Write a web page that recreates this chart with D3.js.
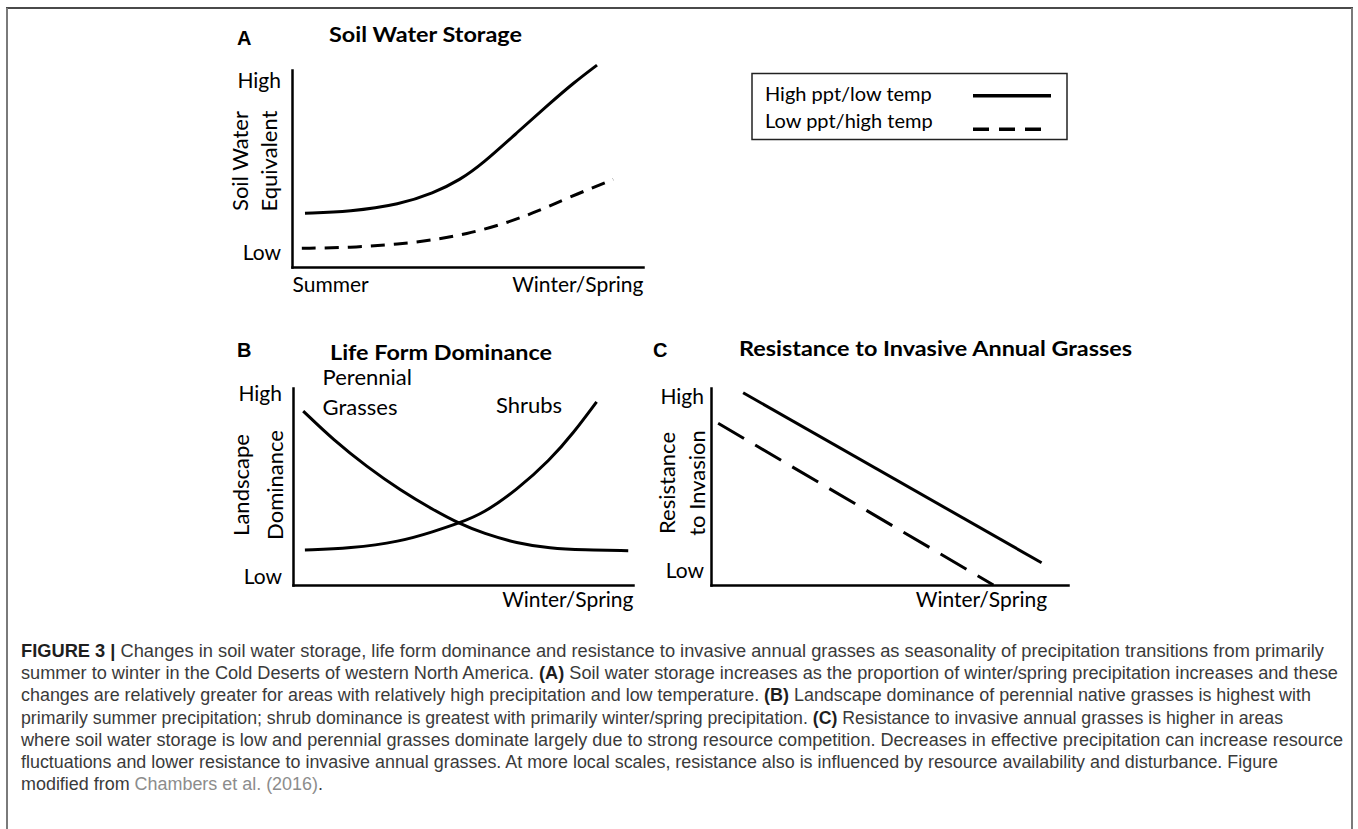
<!DOCTYPE html>
<html>
<head>
<meta charset="utf-8">
<script src="https://cdn.jsdelivr.net/npm/d3@7"></script>
<style>
  html, body { margin: 0; padding: 0; background: #fff; }
  svg { display: block; }
</style>
</head>
<body>
<svg id="fig" width="1358" height="829"></svg>
<script>
// ---- Conceptual curves, x = seasonality index (0 summer … 100 winter/spring), y = relative level (0 low … 100 high)

// (A) Soil water storage
const storageHighPpt = [[3.7,27.3],[16.5,28.1],[30.8,31.8],[40.2,37.4],[47.9,44.2],[54.4,52.6],[63.9,67.9],[73.5,83.1],[80.1,93.3],[86.9,102.5]];
const storageLowPpt  = [[2.8,9.5],[16.5,9.8],[30.8,11.7],[40.3,13.7],[49.8,16.8],[59.3,21.3],[68.7,27.3],[78.3,34.9],[91.5,44.5]];

// (B) Life form dominance
const dominanceGrasses = [[3.0,88.3],[11.9,73.6],[21.7,60.1],[31.5,48.2],[41.3,38.1],[49.1,31.0],[56.0,26.2],[65.8,21.2],[75.6,18.6],[85.4,17.8],[98.6,17.4]];
const dominanceShrubs  = [[3.5,17.8],[16.8,18.6],[31.5,22.0],[41.3,27.1],[49.1,31.6],[56.0,36.4],[65.8,48.2],[75.6,63.5],[82.4,77.0],[89.3,93.0]];

// (C) Resistance to invasive annual grasses
const resistanceHighPpt = [[9.0,97.6],[92.6,11.3]];
const resistanceLowPpt  = [[2.0,82.1],[79.1,0]];

// Axis wording
const levelLabels  = ["Low", "High"];
const seasonLabels = ["Summer", "Winter/Spring"];
const legendLabels = ["High ppt/low temp", "Low ppt/high temp"];

// Caption, one entry per printed line; segments are [text, style]
const captionLines = [
  [["FIGURE 3 | ", "b"], ["Changes in soil water storage, life form dominance and resistance to invasive annual grasses as seasonality of precipitation transitions from primarily", ""]],
  [["summer to winter in the Cold Deserts of western North America. ", ""], ["(A)", "b"], [" Soil water storage increases as the proportion of winter/spring precipitation increases and these", ""]],
  [["changes are relatively greater for areas with relatively high precipitation and low temperature. ", ""], ["(B)", "b"], [" Landscape dominance of perennial native grasses is highest with", ""]],
  [["primarily summer precipitation; shrub dominance is greatest with primarily winter/spring precipitation. ", ""], ["(C)", "b"], [" Resistance to invasive annual grasses is higher in areas", ""]],
  [["where soil water storage is low and perennial grasses dominate largely due to strong resource competition. Decreases in effective precipitation can increase resource", ""]],
  [["fluctuations and lower resistance to invasive annual grasses. At more local scales, resistance also is influenced by resource availability and disturbance. Figure", ""]],
  [["modified from ", ""], ["Chambers et al. (2016)", "link"], [".", ""]]
];
const captionWidths = [1303, 1317, 1290, 1262, 1322, 1257, 302];

// ---- Drawing
const svg = d3.select("#fig");
const FONT = "Lato, 'Open Sans', sans-serif";
const SOLID = null, DASH_A = "14,9", DASH_C = "30,13";

// frame around the figure
const frame = svg.append("g").attr("fill", "none");
frame.append("line").attr("x1", 6).attr("x2", 1353).attr("y1", 8).attr("y2", 8)
  .attr("stroke", "#4a4a4a").attr("stroke-width", 2);
frame.append("line").attr("x1", 7).attr("x2", 7).attr("y1", 8).attr("y2", 829)
  .attr("stroke", "#7a7a7a").attr("stroke-width", 2);
frame.append("line").attr("x1", 1352).attr("x2", 1352).attr("y1", 8).attr("y2", 829)
  .attr("stroke", "#7a7a7a").attr("stroke-width", 2);

const line = (x, y) => d3.line().x(d => x(d[0])).y(d => y(d[1])).curve(d3.curveBasis);

function panel(cfg) {
  const x = d3.scaleLinear().domain([0, 100]).range(cfg.xRange);
  const y = d3.scaleLinear().domain([0, 100]).range(cfg.yRange);
  const g = svg.append("g");

  // panel letter and title
  g.append("text").attr("x", cfg.letter[0]).attr("y", cfg.letter[1])
    .attr("font-family", "'Liberation Sans', Arial, sans-serif").attr("font-weight", 700)
    .attr("font-size", 20).text(cfg.letterText);
  g.append("text").attr("x", cfg.title[0]).attr("y", cfg.title[1])
    .attr("font-family", FONT).attr("font-weight", 700).attr("font-size", 21)
    .attr("textLength", cfg.titleWidth).attr("lengthAdjust", "spacingAndGlyphs")
    .text(cfg.titleText);

  // y axis: Low / High
  const ya = g.append("g").attr("transform", `translate(${cfg.xRange[0]},0)`)
    .call(d3.axisLeft(y).tickValues(cfg.yTicks).tickFormat((d, i) => levelLabels[i])
      .tickSize(0).tickSizeOuter(0).tickPadding(cfg.yPad));
  // x axis: season labels
  const xa = g.append("g").attr("transform", `translate(0,${cfg.yRange[0]})`)
    .call(d3.axisBottom(x).tickValues(cfg.xTicks).tickFormat((d, i) => cfg.xTickText[i])
      .tickSize(0).tickSizeOuter(0).tickPadding(cfg.xPad));
  [ya, xa].forEach(a => {
    a.select(".domain").attr("stroke", "#000").attr("stroke-width", 2.5).attr("stroke-linecap", "square");
    a.selectAll("text").attr("font-family", FONT).attr("font-size", 21).attr("fill", "#000");
  });
  ya.selectAll("text").attr("dy", "0.36em");
  xa.selectAll("text").attr("text-anchor", (d, i) => cfg.xAnchor[i]);

  // rotated y title
  cfg.yTitle.forEach((t, i) => {
    g.append("text")
      .attr("transform", `translate(${cfg.yTitleX[i]},${cfg.yTitleY}) rotate(-90)`)
      .attr("text-anchor", "middle").attr("font-family", FONT).attr("font-size", 22)
      .text(t);
  });

  // series
  cfg.series.forEach(s => {
    g.append("path").datum(s.data).attr("d", line(x, y)).attr("fill", "none")
      .attr("stroke", "#000").attr("stroke-width", 3)
      .attr("stroke-dasharray", s.dash).attr("stroke-linecap", "butt");
  });

  // in-plot annotations
  (cfg.notes || []).forEach(n => {
    g.append("text").attr("x", x(n[1])).attr("y", y(n[2]))
      .attr("font-family", FONT).attr("font-size", 22).text(n[0]);
  });
  return { x, y };
}

panel({
  letterText: "A", letter: [237, 45], titleText: "Soil Water Storage", title: [329, 42], titleWidth: 193,
  xRange: [292, 643], yRange: [267, 70],
  yTicks: [7.4, 94.9], yPad: 11,
  xTicks: [0, 100], xTickText: seasonLabels, xAnchor: ["start", "end"], xPad: 10,
  yTitle: ["Soil Water", "Equivalent"], yTitleX: [248, 277], yTitleY: 161,
  series: [{ data: storageHighPpt, dash: SOLID }, { data: storageLowPpt, dash: DASH_A }]
});

panel({
  letterText: "B", letter: [237, 357], titleText: "Life Form Dominance", title: [330, 360], titleWidth: 222,
  xRange: [293, 633], yRange: [585, 388],
  yTicks: [4.8, 97.7], yPad: 11,
  xTicks: [100], xTickText: [seasonLabels[1]], xAnchor: ["end"], xPad: 7,
  yTitle: ["Landscape", "Dominance"], yTitleX: [249, 283], yTitleY: 485,
  series: [{ data: dominanceGrasses, dash: SOLID }, { data: dominanceShrubs, dash: SOLID }],
  notes: [["Perennial", 8.7, 101.5], ["Grasses", 8.7, 86.3], ["Shrubs", 59.7, 87.3]]
});

panel({
  letterText: "C", letter: [653, 357], titleText: "Resistance to Invasive Annual Grasses", title: [739, 356], titleWidth: 393,
  xRange: [711, 1068], yRange: [585, 388],
  yTicks: [7.4, 96.2], yPad: 7,
  xTicks: [94], xTickText: [seasonLabels[1]], xAnchor: ["end"], xPad: 7,
  yTitle: ["Resistance", "to Invasion"], yTitleX: [675, 705], yTitleY: 483,
  series: [{ data: resistanceHighPpt, dash: SOLID }, { data: resistanceLowPpt, dash: DASH_C }]
});

// legend
const lg = svg.append("g");
lg.append("rect").attr("x", 752).attr("y", 73.5).attr("width", 315).attr("height", 66)
  .attr("fill", "none").attr("stroke", "#222").attr("stroke-width", 1.5);
const legendKeys = [{ dash: SOLID, y: 95.7, x2: 1051 }, { dash: "16,10", y: 129.3, x2: 1042 }];
legendLabels.forEach((t, i) => {
  lg.append("text").attr("x", 765).attr("y", [101, 127.5][i])
    .attr("font-family", FONT).attr("font-size", 20).text(t);
  lg.append("line").attr("x1", 973).attr("x2", legendKeys[i].x2)
    .attr("y1", legendKeys[i].y).attr("y2", legendKeys[i].y)
    .attr("stroke", "#000").attr("stroke-width", 3.5).attr("stroke-dasharray", legendKeys[i].dash);
});

// caption
const cap = svg.append("g").attr("font-family", "'Liberation Sans', Arial, sans-serif").attr("font-size", 17.5);
captionLines.forEach((segs, i) => {
  const t = cap.append("text").attr("x", 21).attr("y", 657 + i * 22.2)
    .attr("fill", "#3a3a3a")
    .attr("textLength", captionWidths[i]).attr("lengthAdjust", "spacingAndGlyphs");
  segs.forEach(([s, style]) => {
    const ts = t.append("tspan").text(s);
    if (style === "b") ts.attr("font-weight", 700).attr("fill", "#1e1e1e");
    if (style === "link") ts.attr("fill", "#8c8c8c");
  });
});
</script>
</body>
</html>
